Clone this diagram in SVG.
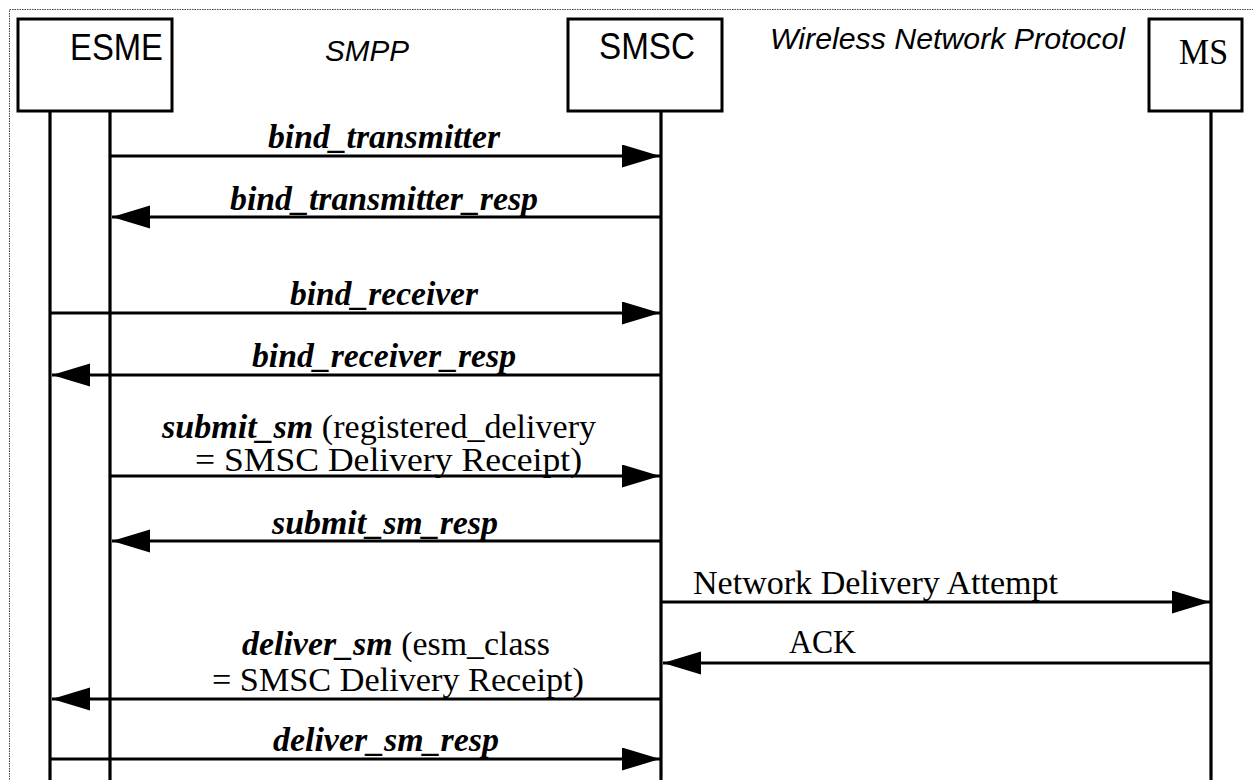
<svg xmlns="http://www.w3.org/2000/svg" width="1253" height="780" viewBox="0 0 1253 780">
<defs>
<style>
.box{fill:#fff;stroke:#000;stroke-width:3}
.life{stroke:#000;stroke-width:3.2;fill:none}
.msg{stroke:#000;stroke-width:3;fill:none}
.arr{marker-end:url(#ah)}
.lbl{font-family:"Liberation Sans",Arial,sans-serif;fill:#000}
.prot{font-family:"Liberation Sans",Arial,sans-serif;font-style:italic;fill:#000}
.tm{font-family:"Liberation Serif","Times New Roman",serif;fill:#000;font-size:33px}
.bi{font-weight:bold;font-style:italic}
.frame{fill:none;stroke:#444;stroke-width:1;stroke-dasharray:1.5,1}
</style>
<marker id="ah" markerUnits="userSpaceOnUse" markerWidth="40" markerHeight="24" refX="38" refY="11.5" orient="auto">
<path d="M0,0 L38,11.5 L0,23 Z" fill="#000"/>
</marker>
</defs>
<rect width="1253" height="780" fill="#fff"/>
<path class="frame" d="M9.5,782 V9.5 H1255"/>

<g id="esme">
<rect class="box" x="18" y="19" width="154" height="92"/>
<text class="lbl" x="70" y="60" font-size="36" textLength="93" lengthAdjust="spacingAndGlyphs">ESME</text>
<line class="life" x1="50" y1="111" x2="50" y2="782"/>
<line class="life" x1="110" y1="111" x2="110" y2="782"/>
</g>
<g id="smsc">
<rect class="box" x="568" y="19" width="154" height="92"/>
<text class="lbl" x="599" y="59" font-size="36" textLength="96" lengthAdjust="spacingAndGlyphs">SMSC</text>
<line class="life" x1="661" y1="111" x2="661" y2="782"/>
</g>
<g id="ms">
<rect class="box" x="1149" y="19" width="93" height="92"/>
<text class="tm" x="1179" y="64" style="font-size:35px" textLength="49" lengthAdjust="spacingAndGlyphs">MS</text>
<line class="life" x1="1211" y1="111" x2="1211" y2="782"/>
</g>
<g id="protocols">
<text class="prot" x="325" y="61" font-size="30" textLength="84" lengthAdjust="spacingAndGlyphs">SMPP</text>
<text class="prot" x="770" y="49" font-size="30" textLength="355" lengthAdjust="spacingAndGlyphs">Wireless Network Protocol</text>
</g>

<g id="connectors">
<line class="msg arr" x1="110" y1="156" x2="660" y2="156"/>
<line class="msg arr" x1="661" y1="217" x2="112" y2="217"/>
<line class="msg arr" x1="50" y1="313" x2="660" y2="313"/>
<line class="msg arr" x1="661" y1="375" x2="52" y2="375"/>
<line class="msg arr" x1="110" y1="476" x2="660" y2="476"/>
<line class="msg arr" x1="661" y1="541" x2="112" y2="541"/>
<line class="msg arr" x1="661" y1="602" x2="1210" y2="602"/>
<line class="msg arr" x1="1211" y1="663" x2="663" y2="663"/>
<line class="msg arr" x1="661" y1="699" x2="52" y2="699"/>
<line class="msg arr" x1="50" y1="759" x2="660" y2="759"/>
</g>

<g id="labels">
<text class="tm bi" x="268" y="148" textLength="232" lengthAdjust="spacingAndGlyphs">bind_transmitter</text>
<text class="tm bi" x="230" y="210" textLength="308" lengthAdjust="spacingAndGlyphs">bind_transmitter_resp</text>
<text class="tm bi" x="290" y="305" textLength="188" lengthAdjust="spacingAndGlyphs">bind_receiver</text>
<text class="tm bi" x="252" y="367" textLength="264" lengthAdjust="spacingAndGlyphs">bind_receiver_resp</text>
<text class="tm" x="162" y="438" textLength="434" lengthAdjust="spacingAndGlyphs"><tspan class="bi">submit_sm</tspan> (registered_delivery</text>
<text class="tm" x="195" y="471" textLength="387" lengthAdjust="spacingAndGlyphs">= SMSC Delivery Receipt)</text>
<text class="tm bi" x="272" y="534" textLength="226" lengthAdjust="spacingAndGlyphs">submit_sm_resp</text>
<text class="tm" x="693" y="594" textLength="365" lengthAdjust="spacingAndGlyphs">Network Delivery Attempt</text>
<text class="tm" x="789" y="653" textLength="67" lengthAdjust="spacingAndGlyphs">ACK</text>
<text class="tm" x="242" y="655" textLength="308" lengthAdjust="spacingAndGlyphs"><tspan class="bi">deliver_sm</tspan> (esm_class</text>
<text class="tm" x="212" y="691" textLength="372" lengthAdjust="spacingAndGlyphs">= SMSC Delivery Receipt)</text>
<text class="tm bi" x="273" y="751" textLength="226" lengthAdjust="spacingAndGlyphs">deliver_sm_resp</text>
</g>
</svg>
